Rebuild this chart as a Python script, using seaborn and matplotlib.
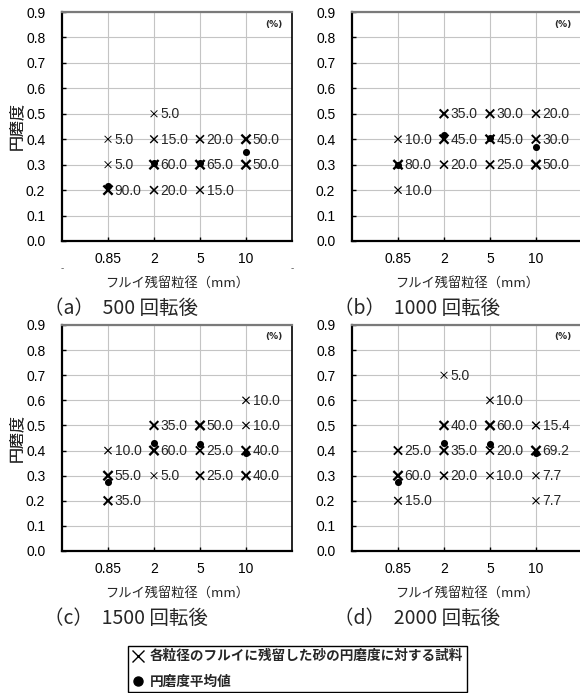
import numpy as np
import pandas as pd
import matplotlib
matplotlib.use("Agg")
import matplotlib.pyplot as plt
from matplotlib.lines import Line2D
import seaborn as sns

# ---- data -------------------------------------------------------------
sieve_sizes = ["0.85", "2", "5", "10"]          # フルイ残留粒径 (mm)
y_ticks = [0.0, 0.1, 0.2, 0.3, 0.4, 0.5, 0.6, 0.7, 0.8, 0.9]

# 500 回転後
a_sieve = ["0.85", "0.85", "0.85", "2", "2", "2", "2", "5", "5", "5", "10", "10"]
a_round = [0.4, 0.3, 0.2, 0.5, 0.4, 0.3, 0.2, 0.4, 0.3, 0.2, 0.4, 0.3]
a_pct = [5.0, 5.0, 90.0, 5.0, 15.0, 60.0, 20.0, 20.0, 65.0, 15.0, 50.0, 50.0]
a_mean = [0.215, 0.305, 0.305, 0.35]

# 1000 回転後
b_sieve = ["0.85", "0.85", "0.85", "2", "2", "2", "5", "5", "5", "10", "10", "10"]
b_round = [0.4, 0.3, 0.2, 0.5, 0.4, 0.3, 0.5, 0.4, 0.3, 0.5, 0.4, 0.3]
b_pct = [10.0, 80.0, 10.0, 35.0, 45.0, 20.0, 30.0, 45.0, 25.0, 20.0, 30.0, 50.0]
b_mean = [0.30, 0.415, 0.405, 0.37]

# 1500 回転後
c_sieve = ["0.85", "0.85", "0.85", "2", "2", "2", "5", "5", "5", "10", "10", "10", "10"]
c_round = [0.4, 0.3, 0.2, 0.5, 0.4, 0.3, 0.5, 0.4, 0.3, 0.6, 0.5, 0.4, 0.3]
c_pct = [10.0, 55.0, 35.0, 35.0, 60.0, 5.0, 50.0, 25.0, 25.0, 10.0, 10.0, 40.0, 40.0]
c_mean = [0.275, 0.43, 0.425, 0.39]

# 2000 回転後
d_sieve = ["0.85", "0.85", "0.85", "2", "2", "2", "2", "5", "5", "5", "5",
           "10", "10", "10", "10"]
d_round = [0.4, 0.3, 0.2, 0.7, 0.5, 0.4, 0.3, 0.6, 0.5, 0.4, 0.3, 0.5, 0.4, 0.3, 0.2]
d_pct = [25.0, 60.0, 15.0, 5.0, 40.0, 35.0, 20.0, 10.0, 60.0, 20.0, 10.0,
         15.4, 69.2, 7.7, 7.7]
d_mean = [0.275, 0.43, 0.425, 0.39]

captions = ["（a）  500 回転後", "（b）  1000 回転後", "（c）  1500 回転後", "（d）  2000 回転後"]
y_label = "円磨度"
x_label = "フルイ残留粒径（mm）"
legend_labels = ["各粒径のフルイに残留した砂の円磨度に対する試料", "円磨度平均値"]

panels = [
    (a_sieve, a_round, a_pct, a_mean),
    (b_sieve, b_round, b_pct, b_mean),
    (c_sieve, c_round, c_pct, c_mean),
    (d_sieve, d_round, d_pct, d_mean),
]

# ---- style --------------------------------------------------------------
sns.set_style("white")
plt.rcParams["font.family"] = ["Liberation Sans", "Noto Sans CJK JP", "DejaVu Sans"]
CJK = ["Noto Sans CJK JP", "DejaVu Sans"]
MIX = ["Liberation Sans", "Noto Sans CJK JP"]

W, H = 580, 693
fig = plt.figure(figsize=(W / 100, H / 100), dpi=100)


def px_box(l, t, r, b):
    return [l / W, 1 - b / H, (r - l) / W, (b - t) / H]


def fx(x):
    return x / W


def fy(y):
    return 1 - y / H


PX = 0.72  # points per pixel at 100 dpi

# axes boxes in pixels (left, top, right, bottom)
boxes = [(62, 12, 292, 241), (352, 12, 582, 241),
         (62, 325, 292, 551), (352, 325, 582, 551)]

for i, ((sv, rd, pc, mn), (l, t, r, b)) in enumerate(zip(panels, boxes)):
    ax = fig.add_axes(px_box(l, t, r, b))
    pos = {s: k for k, s in enumerate(sieve_sizes)}
    df = pd.DataFrame({"pos": [pos[s] for s in sv], "round": rd, "pct": pc})
    pct = df["pct"].to_numpy()
    # heavier crosses for larger shares
    lw = np.interp(pct, [5, 10, 25, 50], [0.65, 0.85, 1.3, 1.7])
    ms = np.interp(pct, [5, 25, 50], [24, 36, 44])

    sns.scatterplot(data=df, x="pos", y="round", ax=ax, marker="x",
                    color="black", s=ms, linewidth=lw,
                    legend=False, zorder=3)

    mdf = pd.DataFrame({"pos": list(range(len(sieve_sizes))), "mean": mn})
    sns.scatterplot(data=mdf, x="pos", y="mean", ax=ax, marker="o",
                    color="black", edgecolor="black", s=26, linewidth=0,
                    legend=False, zorder=4)

    for xp, yv, p in zip(df["pos"], df["round"], df["pct"]):
        ax.annotate(f"{p:.1f}", (xp, yv), xytext=(6.5 * PX, -0.5 * PX),
                    textcoords="offset points", ha="left", va="center",
                    fontsize=10, family=MIX, zorder=5)

    ax.set_xlim(-1, 4)
    ax.set_ylim(0, 0.9)
    ax.set_xticks(range(len(sieve_sizes)))
    ax.set_xticklabels(sieve_sizes)
    ax.set_yticks(y_ticks)
    ax.set_yticklabels([f"{v:.1f}" for v in y_ticks])
    ax.set_xlabel("")
    ax.set_ylabel("")
    ax.grid(True, color="#c4c4c4", linewidth=0.8)
    ax.set_axisbelow(True)
    ax.tick_params(axis="both", direction="in", length=3, width=1.0,
                   colors="black", labelsize=10)
    ax.tick_params(axis="y", pad=12, left=True)
    ax.tick_params(axis="x", pad=8, bottom=True)
    for lab in ax.get_xticklabels() + ax.get_yticklabels():
        lab.set_family(MIX)
    ax.spines["left"].set_color("black")
    ax.spines["left"].set_linewidth(1.6)
    ax.spines["bottom"].set_color("black")
    ax.spines["bottom"].set_linewidth(1.6)
    ax.spines["right"].set_color("black")
    ax.spines["right"].set_linewidth(1.2)
    ax.spines["top"].set_color("#7a7a7a")
    ax.spines["top"].set_linewidth(1.6)

    ax.annotate("(%)", (1, 1), xycoords="axes fraction", xytext=(-10 * PX, -12 * PX),
                textcoords="offset points", ha="right", va="center",
                fontsize=6.5, fontweight="bold", family=["DejaVu Sans"])

    if i == 0:
        for xf in (0, 1):
            ax.annotate("-", (xf, 0), xycoords="axes fraction",
                        xytext=(0, -27 * PX), textcoords="offset points",
                        ha="center", va="center", fontsize=7, color="#555555")

    fig.text(fx(16), fy((t + b) / 2), y_label, rotation=90, ha="center",
             va="center", fontsize=11.5, family=CJK)
    fig.text(fx(l + 115), fy(b + 42), x_label, ha="center", va="center",
             fontsize=9.5, family=CJK)
    fig.text(fx(l - 18), fy(b + 67), captions[i], ha="left", va="center",
             fontsize=14, family=CJK)

handles = [
    Line2D([], [], linestyle="none", marker="x", markersize=9, markeredgewidth=1.0,
           color="black"),
    Line2D([], [], linestyle="none", marker="o", markersize=6.5, color="black"),
]
leg = fig.legend(handles, legend_labels, loc="upper left",
                 bbox_to_anchor=(fx(128), fy(646)), frameon=True, fancybox=False,
                 edgecolor="black", framealpha=1, borderpad=0.25,
                 handlelength=1.0, handletextpad=0.35, labelspacing=0.85,
                 borderaxespad=0,
                 prop={"family": CJK, "weight": "bold", "size": 9.8})
leg.get_frame().set_linewidth(1.0)

fig.savefig("out.png", dpi=100)
